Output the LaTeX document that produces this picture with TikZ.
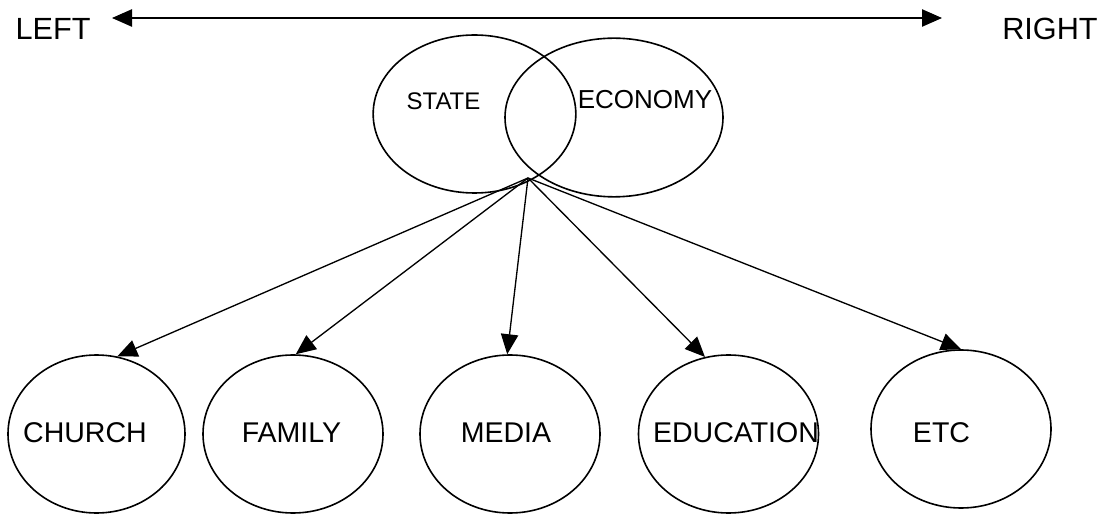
\documentclass[tikz,border=0pt]{standalone}
\usepackage{fontspec}
\setmainfont{Liberation Sans}
\usetikzlibrary{shapes.geometric,arrows.meta}
\tikzset{
  blob/.style={draw, ellipse, line width=1.2pt, inner sep=0pt, minimum width=135pt, minimum height=118.5pt},
  lbl/.style={inner sep=0pt, font=\fontsize{21.4}{24}\selectfont},
  side/.style={inner sep=0pt, font=\fontsize{23}{26}\selectfont},
  feed/.style={-{Triangle[length=15pt,width=13pt]}, line width=1pt},
}
\begin{document}
\begin{tikzpicture}[x=0.75pt,y=-0.75pt]
\useasboundingbox (0,0) rectangle (1106,516);
% the left--right scale
\node[side] (left) at (53,28.5) {LEFT};
\node[side] (right) at (1050,28.5) {RIGHT};
\coordinate (lend) at (112,18);
\coordinate (rend) at (942,18);
\draw[{Triangle[length=15pt,width=13pt]}-{Triangle[length=15pt,width=13pt]}, line width=1pt] (lend) -- (rend);
% state and economy
\node[blob, minimum width=152pt, minimum height=118.5pt] (state) at (474.5,114) {};
\node[blob, minimum width=163.5pt, minimum height=119pt] (economy) at (614,117.5) {};
\node[lbl, font=\fontsize{18}{20}\selectfont] (statetxt) at (443.5,101) {STATE};
\node[lbl, font=\fontsize{19.5}{22}\selectfont] (economytxt) at (645,100) {ECONOMY};
\coordinate (hub) at (528,178);
% institutions
\node[blob, minimum width=132.75pt] (church) at (96.5,434) {};
\node[blob] (family) at (293,434) {};
\node[blob] (media) at (510,434) {};
\node[blob] (education) at (728.5,434) {};
\node[blob] (etc) at (961,429) {};
\node[lbl] (churchtxt) at (85,433) {CHURCH};
\node[lbl] (familytxt) at (291.5,433) {FAMILY};
\node[lbl] (mediatxt) at (506,433) {MEDIA};
\node[lbl] (educationtxt) at (736,433) {EDUCATION};
\node[lbl] (etctxt) at (941.5,433) {ETC};
\foreach \n/\a in {church/75, family/88, media/92, education/107, etc/90}
  \draw[feed] (hub) -- (\n.\a);
\end{tikzpicture}
\end{document}
